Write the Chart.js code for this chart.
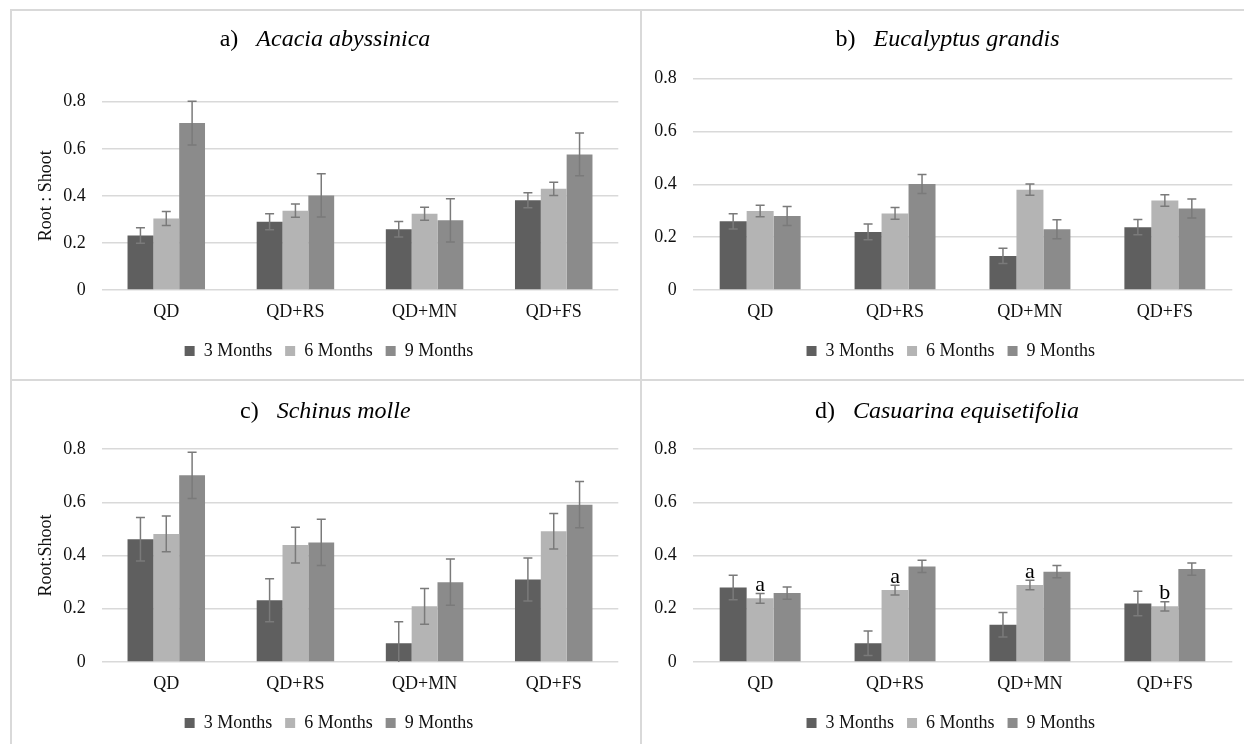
<!DOCTYPE html>
<html>
<head>
<meta charset="utf-8">
<script src="https://cdn.jsdelivr.net/npm/chart.js@4.4.1/dist/chart.umd.min.js"></script>
<style>
html,body{margin:0;padding:0;background:#fff;width:1244px;height:744px;overflow:hidden}
#wrap{position:relative;width:1244px;height:744px;background:#fff;overflow:hidden}
canvas{position:absolute}
.ln{position:absolute;background:#d9d9d9;z-index:5}
</style>
</head>
<body>
<div id="wrap">
<canvas id="cA" width="640" height="380" style="left:0;top:0"></canvas>
<canvas id="cB" width="612" height="380" style="left:640px;top:0"></canvas>
<canvas id="cC" width="640" height="364" style="left:0;top:380px"></canvas>
<canvas id="cD" width="612" height="364" style="left:640px;top:380px"></canvas>
<div class="ln" style="left:10px;top:9px;width:1234px;height:2px"></div>
<div class="ln" style="left:10px;top:9px;width:2px;height:735px"></div>
<div class="ln" style="left:640px;top:9px;width:2px;height:735px"></div>
<div class="ln" style="left:10px;top:379px;width:1234px;height:2px"></div>
</div>
<script>
// ---------- DATA ----------
const categories = ['QD', 'QD+RS', 'QD+MN', 'QD+FS'];
const seriesLabels = ['3 Months', '6 Months', '9 Months'];
const yTicks = [0, 0.2, 0.4, 0.6, 0.8];

// a) Acacia abyssinica
const acacia3 = [0.232, 0.290, 0.258, 0.381];
const acacia6 = [0.304, 0.337, 0.324, 0.430];
const acacia9 = [0.709, 0.402, 0.296, 0.576];
const acaciaErr3 = [0.033, 0.034, 0.033, 0.032];
const acaciaErr6 = [0.030, 0.028, 0.028, 0.028];
const acaciaErr9 = [0.093, 0.092, 0.092, 0.091];

// b) Eucalyptus grandis
const eucal3 = [0.260, 0.220, 0.129, 0.238];
const eucal6 = [0.299, 0.290, 0.380, 0.339];
const eucal9 = [0.280, 0.401, 0.230, 0.309];
const eucalErr3 = [0.029, 0.030, 0.029, 0.029];
const eucalErr6 = [0.022, 0.022, 0.021, 0.022];
const eucalErr9 = [0.036, 0.036, 0.036, 0.036];

// c) Schinus molle
const schinus3 = [0.461, 0.232, 0.070, 0.310];
const schinus6 = [0.481, 0.439, 0.209, 0.491];
const schinus9 = [0.701, 0.449, 0.300, 0.591];
const schinusErr3 = [0.082, 0.081, 0.081, 0.081];
const schinusErr6 = [0.067, 0.067, 0.067, 0.067];
const schinusErr9 = [0.087, 0.087, 0.087, 0.087];

// d) Casuarina equisetifolia
const casua3 = [0.280, 0.070, 0.140, 0.220];
const casua6 = [0.239, 0.270, 0.289, 0.209];
const casua9 = [0.259, 0.359, 0.339, 0.349];
const casuaErr3 = [0.046, 0.046, 0.046, 0.046];
const casuaErr6 = [0.018, 0.018, 0.018, 0.017];
const casuaErr9 = [0.023, 0.023, 0.023, 0.023];
const casuaLetters6 = ['a', 'a', 'a', 'b'];

// ---------- STYLE ----------
const FONT = "'Liberation Serif', 'Times New Roman', Times, serif";
const barColors = ['#5f5f5f', '#b4b4b4', '#8b8b8b'];
const TEXT = '#111111';

const errorBarPlugin = {
  id: 'errorBars',
  afterDatasetsDraw(chart) {
    const ctx = chart.ctx;
    const y = chart.scales.y;
    const area = chart.chartArea;
    ctx.save();
    ctx.beginPath();
    ctx.rect(area.left, area.top - 40, area.right - area.left, area.bottom - area.top + 40);
    ctx.clip();
    chart.data.datasets.forEach((ds, di) => {
      const meta = chart.getDatasetMeta(di);
      if (!ds.errors) return;
      meta.data.forEach((bar, i) => {
        const v = ds.data[i], e = ds.errors[i];
        const x = bar.x;
        const yt = y.getPixelForValue(v + e);
        const yb = y.getPixelForValue(v - e);
        ctx.strokeStyle = '#7a7a7a';
        ctx.lineWidth = 1.5;
        ctx.beginPath();
        ctx.moveTo(x, yt); ctx.lineTo(x, yb);
        ctx.moveTo(x - 4.5, yt); ctx.lineTo(x + 4.5, yt);
        ctx.moveTo(x - 4.5, yb); ctx.lineTo(x + 4.5, yb);
        ctx.stroke();
        if (ds.letters && ds.letters[i]) {
          ctx.fillStyle = '#000';
          ctx.font = '22px ' + FONT;
          ctx.textAlign = 'center';
          ctx.textBaseline = 'alphabetic';
          ctx.fillText(ds.letters[i], x, yt - 2.5);
        }
      });
    });
    ctx.restore();
  }
};

const panelTitlePlugin = {
  id: 'panelTitle',
  afterDraw(chart, args, opts) {
    const ctx = chart.ctx;
    ctx.save();
    const normal = '24px ' + FONT;
    const italic = 'italic 24px ' + FONT;
    ctx.font = normal;
    const w1 = ctx.measureText(opts.prefix).width;
    ctx.font = italic;
    const w2 = ctx.measureText(opts.species).width;
    const gap = 18;
    let x = opts.centerX - (w1 + gap + w2) / 2;
    ctx.fillStyle = '#000';
    ctx.textBaseline = 'middle';
    ctx.textAlign = 'left';
    ctx.font = normal;
    ctx.fillText(opts.prefix, x, opts.y);
    ctx.font = italic;
    ctx.fillText(opts.species, x + w1 + gap, opts.y);
    ctx.restore();
  }
};

function makeChart(id, s3, s6, s9, e3, e6, e9, letters6, cfg) {
  const datasets = [
    {label: seriesLabels[0], data: s3, errors: e3, backgroundColor: barColors[0], borderWidth: 0},
    {label: seriesLabels[1], data: s6, errors: e6, letters: letters6, backgroundColor: barColors[1], borderWidth: 0},
    {label: seriesLabels[2], data: s9, errors: e9, backgroundColor: barColors[2], borderWidth: 0}
  ];
  return new Chart(document.getElementById(id), {
    type: 'bar',
    data: {labels: categories, datasets},
    plugins: [errorBarPlugin, panelTitlePlugin],
    options: {
      responsive: false,
      animation: false,
      events: [],
      devicePixelRatio: 1,
      datasets: {bar: {categoryPercentage: 0.6, barPercentage: 1.0}},
      layout: {padding: cfg.padding},
      scales: {
        x: {
          grid: {display: false, drawTicks: false},
          border: {display: false},
          ticks: {font: {family: FONT, size: 18}, color: TEXT, padding: 11},
          afterFit: (s) => { s.height = 39; }
        },
        y: {
          min: yTicks[0], max: yTicks[yTicks.length - 1],
          afterBuildTicks: (s) => { s.ticks = yTicks.map(v => ({value: v})); },
          grid: {color: '#d9d9d9', lineWidth: 1.5, drawTicks: false},
          border: {display: false},
          ticks: {font: {family: FONT, size: 18}, color: TEXT, padding: 16},
          title: cfg.yTitle ? {display: true, text: cfg.yTitle, color: TEXT,
                  font: {family: FONT, size: 18, lineHeight: 1}, padding: {top: cfg.yTitlePad, bottom: 0}} : {display: false},
          afterFit: (s) => { s.width = cfg.yWidth; }
        },
        // empty spacer on the right so the bottom legend is centred like the original
        spacer: {
          type: 'linear', position: 'right', display: true,
          grid: {display: false, drawTicks: false},
          border: {display: false},
          ticks: {display: false},
          afterFit: (s) => { s.width = cfg.spacer; }
        }
      },
      plugins: {
        legend: {
          position: 'bottom',
          labels: {boxWidth: 10, boxHeight: 10, padding: 13, color: TEXT, font: {family: FONT, size: 18}}
        },
        tooltip: {enabled: false},
        title: {display: false},
        panelTitle: cfg.title
      }
    }
  });
}

makeChart('cA', acacia3, acacia6, acacia9, acaciaErr3, acaciaErr6, acaciaErr9, null, {
  padding: {top: 101.7, bottom: 10, left: 39.5, right: 21.7}, yWidth: 62.2, spacer: 0,
  yTitle: 'Root : Shoot', yTitlePad: -1.8,
  title: {prefix: 'a)', species: 'Acacia abyssinica', centerX: 325, y: 40}
});
makeChart('cB', eucal3, eucal6, eucal9, eucalErr3, eucalErr6, eucalErr9, null, {
  padding: {top: 78.7, bottom: 10, left: 10, right: 0.4}, yWidth: 42.7, spacer: 19.3, yTitle: null,
  title: {prefix: 'b)', species: 'Eucalyptus grandis', centerX: 307.5, y: 40}
});
makeChart('cC', schinus3, schinus6, schinus9, schinusErr3, schinusErr6, schinusErr9, null, {
  padding: {top: 69, bottom: 2, left: 39.5, right: 21.7}, yWidth: 62.2, spacer: 0,
  yTitle: 'Root:Shoot', yTitlePad: -1.8,
  title: {prefix: 'c)', species: 'Schinus molle', centerX: 325.3, y: 31.5}
});
makeChart('cD', casua3, casua6, casua9, casuaErr3, casuaErr6, casuaErr9, casuaLetters6, {
  padding: {top: 69, bottom: 2, left: 10, right: 0.4}, yWidth: 42.7, spacer: 19.3, yTitle: null,
  title: {prefix: 'd)', species: 'Casuarina equisetifolia', centerX: 307, y: 31.7}
});
</script>
</body>
</html>
